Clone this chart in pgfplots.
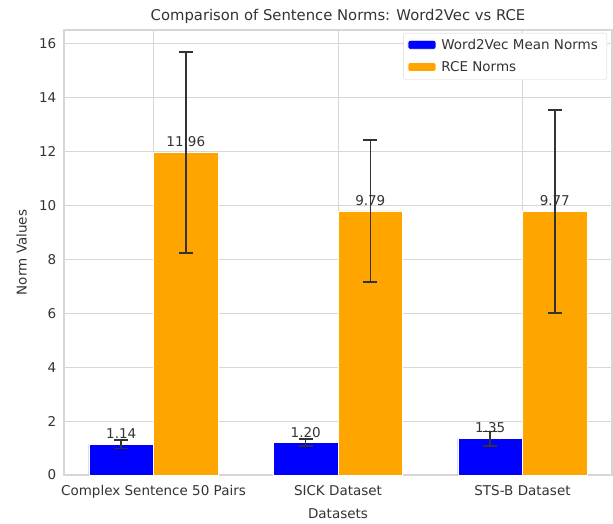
\documentclass[border=0pt]{standalone}
\usepackage{pgfplots}
\pgfplotsset{compat=1.18}
\usepackage{fontspec}
\setmainfont{DejaVu Sans}
\definecolor{wblue}{RGB}{0,0,255}
\definecolor{rorange}{RGB}{255,165,0}
\definecolor{txt}{RGB}{51,51,51}
\definecolor{gridc}{RGB}{214,214,214}

\begin{document}
\fontsize{13.5}{16}\selectfont
\begin{tikzpicture}
\begin{axis}[
  scale only axis,
  width=548pt, height=445pt,
  xmin=-0.485, xmax=2.485,
  ymin=0, ymax=16.5,
  xtick={0,1,2},
  xticklabels={Complex Sentence 50 Pairs, SICK Dataset, STS-B Dataset},
  ytick={0,2,...,16},
  grid=major,
  grid style={gridc, line width=0.9pt},
  axis line style={gridc, line width=1.1pt},
  major tick length=0pt,
  tick label style={font=\fontsize{13.5}{16}\selectfont, text=txt},
  xticklabel style={yshift=-6pt},
  yticklabel style={xshift=-3pt},
  /pgf/number format/assume math mode=true,
  title={Comparison of Sentence Norms: Word2Vec vs RCE},
  title style={font=\fontsize{14.8}{17}\selectfont, text=txt, yshift=-4pt},
  xlabel={Datasets},
  ylabel={Norm Values},
  label style={font=\fontsize{13.5}{16}\selectfont, text=txt},
  xlabel style={yshift=-1pt},
  ylabel style={yshift=3pt},
  ybar,
  bar width=0.35,
  legend style={
    at={(1,1)}, anchor=north east, xshift=-5pt, yshift=-3pt,
    draw=gridc, rounded corners=2pt, fill=white,
    font=\fontsize{13.5}{16}\selectfont, text=txt,
    inner xsep=4pt, inner ysep=4pt,
    row sep=6pt,
    nodes={inner xsep=5pt},
  },
  legend image code/.code={
    \fill[#1] (0pt,-4pt) rectangle (28pt,5pt);
  },
  legend cell align=left,
  nodes near coords,
  every node near coord/.append style={
    font=\fontsize{13.5}{16}\selectfont, text=txt,
    /pgf/number format/fixed,
    /pgf/number format/fixed zerofill,
    /pgf/number format/precision=2,
    /pgf/number format/assume math mode=true,
    inner sep=2pt, yshift=3pt,
  },
  error bars/error bar style={line width=1.5pt, color=txt},
  error bars/error mark options={rotate=90, mark size=7pt, line width=1.5pt, color=txt},
]
% Word2Vec mean norms
\addplot[fill=wblue, draw=white, line width=0.8pt, bar shift=-0.175,
  error bars/.cd, y dir=both, y explicit]
  coordinates {
    (0,1.14) +- (0,0.15)
    (1,1.20) +- (0,0.13)
    (2,1.35) +- (0,0.27)
  };
\addlegendentry{Word2Vec Mean Norms}
% RCE norms
\addplot[fill=rorange, draw=white, line width=0.8pt, bar shift=0.175,
  error bars/.cd, y dir=both, y explicit]
  coordinates {
    (0,11.96) +- (0,3.72)
    (1,9.79) +- (0,2.63)
    (2,9.77) +- (0,3.77)
  };
\addlegendentry{RCE Norms}
\end{axis}
\path (current axis.south west) ++(-64pt,-42pt) rectangle ++(613pt,517pt);
\end{tikzpicture}
\end{document}
